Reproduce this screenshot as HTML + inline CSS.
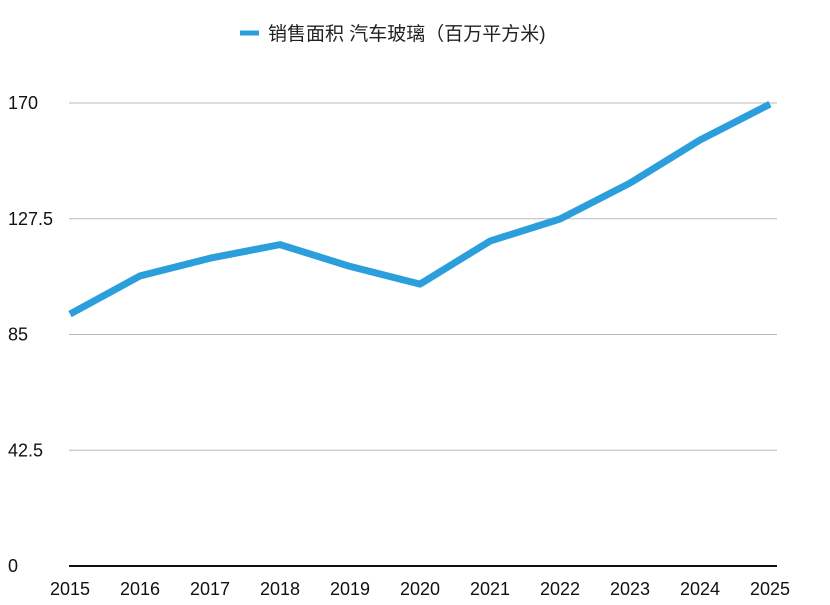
<!DOCTYPE html>
<html><head><meta charset="utf-8"><style>
html,body{margin:0;padding:0;background:#fff;}
svg{display:block;font-family:"Liberation Sans","Noto Sans CJK SC",sans-serif;}
</style></head><body>
<svg id="chart" width="830" height="605">
  <g>
    <line x1="240" y1="33" x2="259" y2="33" stroke="#2a9fdc" stroke-width="5"/>
    <text x="268" y="40" font-size="19" fill="#222">销售面积 汽车玻璃（百万平方米)</text>
  </g>
  <g id="grid"></g>
  <g id="ylabels"></g>
  <g id="xlabels"></g>
  <g id="series"></g>
</svg>
<script>
const categories = ["2015","2016","2017","2018","2019","2020","2021","2022","2023","2024","2025"];
const values = [92.5,106.5,113,118,110,103.5,119.3,127.4,140.6,156.4,169.6];
const yTicks = [0,42.5,85,127.5,170];
const yTickLabels = ["0","42.5","85","127.5","170"];
const NS="http://www.w3.org/2000/svg";
const x0=70,x1=770,yBase=566,yTop=103;
function xs(i){return x0+i*(x1-x0)/(categories.length-1);}
function ys(v){return yBase-(v/170)*(yBase-yTop);}
const grid=document.getElementById('grid'),yl=document.getElementById('ylabels'),xl=document.getElementById('xlabels'),ser=document.getElementById('series');
yTicks.forEach((t,i)=>{
  const l=document.createElementNS(NS,'line');
  l.setAttribute('x1',69);l.setAttribute('x2',777);
  l.setAttribute('y1',ys(t));l.setAttribute('y2',ys(t));
  l.setAttribute('stroke',t===0?'#111':'#bbb');l.setAttribute('stroke-width',t===0?2:1);
  
  
  grid.appendChild(l);
  const tx=document.createElementNS(NS,'text');
  tx.setAttribute('x',8);tx.setAttribute('y',ys(t)+6);tx.setAttribute('font-size','18');tx.setAttribute('fill','#111');
  tx.textContent=yTickLabels[i];
  
  
  yl.appendChild(tx);
});
categories.forEach((c,i)=>{
  const tx=document.createElementNS(NS,'text');
  tx.setAttribute('x',xs(i));tx.setAttribute('y',595);tx.setAttribute('font-size','18');tx.setAttribute('fill','#111');tx.setAttribute('text-anchor','middle');
  tx.textContent=c;
  
  
  xl.appendChild(tx);
});
const p=document.createElementNS(NS,'polyline');
p.setAttribute('points',values.map((v,i)=>xs(i)+','+ys(v)).join(' '));
p.setAttribute('fill','none');p.setAttribute('stroke','#2a9fdc');p.setAttribute('stroke-width','7');p.setAttribute('stroke-linejoin','round');


ser.appendChild(p);
</script>
</body></html>
